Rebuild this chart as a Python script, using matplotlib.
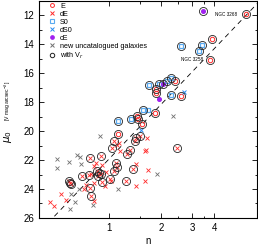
import matplotlib
matplotlib.use('Agg')
import matplotlib.pyplot as plt
from matplotlib.lines import Line2D
import numpy as np

plt.rcParams['font.family'] = ['Liberation Sans', 'DejaVu Sans']

# E galaxies (all with V_r)
e_n = [6.12, 3.89, 3.81, 2.40, 1.87, 1.86, 2.60, 1.83, 1.46, 1.47, 1.56, 1.13]
e_mu = [11.90, 13.64, 15.07, 16.50, 17.09, 17.37, 17.60, 18.74, 18.98, 19.16, 19.48, 20.20]

# S0 galaxies
s0_n = [2.60, 3.39, 3.28, 1.70, 1.93, 2.14, 2.26, 2.28, 1.58, 1.34, 1.13, 1.67]
s0_mu = [14.10, 14.01, 14.43, 16.79, 16.72, 16.50, 16.33, 17.48, 18.52, 19.14, 19.28, 18.52]
s0_vr = [True, True, True, True, True, True, True, True, True, True, True, False]

# dS0
ds0_n = [2.68, 1.52]
ds0_mu = [17.30, 19.90]

# cE
ce_n = [3.46, 2.04, 1.93]
ce_mu = [11.69, 16.72, 17.78]
ce_vr = [True, True, False]

# dE with V_r (circled)
de_vr_n = [1.068, 1.05, 1.41, 1.44, 1.50, 1.32, 1.28, 1.10, 1.115, 1.068, 1.37,
           1.25, 2.46, 1.013, 0.779, 0.908, 0.86, 0.88, 0.90, 0.87, 0.707,
           0.772, 0.92, 0.779, 0.796, 0.59, 0.60, 0.61]
de_vr_mu = [20.70, 21.16, 20.70, 20.47, 20.31, 21.28, 21.55, 22.19, 22.47, 22.77,
            22.61, 23.46, 21.16, 23.34, 21.85, 21.74, 22.78, 22.88, 22.97, 23.07,
            23.07, 23.00, 23.53, 23.92, 24.45, 23.45, 23.55, 23.66]

# dE without V_r
de_n = [1.146, 1.155, 1.66, 1.61, 1.64, 1.43, 1.68, 1.61, 1.44, 1.036, 0.843,
        0.92, 0.83, 0.746, 0.72, 0.537, 0.568, 0.46, 0.485, 0.824, 0.95, 0.97,
        0.79, 0.824, 1.12]
de_mu = [20.81, 21.35, 20.47, 21.39, 21.28, 22.24, 22.66, 23.46, 23.81, 23.46,
         22.19, 22.31, 22.43, 23.69, 24.03, 24.31, 24.79, 24.91, 25.14, 24.80,
         23.81, 22.84, 22.95, 23.57, 20.93]

# new uncatalogued galaxies
new_n = [0.505, 0.505, 0.593, 0.66, 0.683, 0.698, 0.888, 0.612, 0.645, 0.60,
         0.81, 0.677, 1.13, 1.89, 2.33]
new_mu = [21.90, 22.57, 22.16, 21.64, 21.78, 22.28, 20.35, 24.31, 24.87, 25.39,
          25.07, 24.03, 24.03, 22.95, 18.93]

# mu0 - log n relation
rel_a, rel_b = 21.95, -12.7
rel_nmin = 0.49

c_red = '#ff2a2a'
c_s0 = '#5aaaf0'
c_ds0 = '#2a8cf0'
c_ce = '#a020f0'
c_new = '#707070'

fig = plt.figure(figsize=(2.58, 2.46), dpi=100)
ax = fig.add_axes([0.151, 0.114, 0.844, 0.882])

nn = np.logspace(np.log10(rel_nmin), np.log10(8), 50)
ax.plot(nn, rel_a + rel_b * np.log10(nn), ls=(0, (6, 5)), color='k', lw=0.6, zorder=1)

ax.plot(new_n, new_mu, 'x', color=c_new, ms=2.8, mew=0.6, zorder=2)
ax.plot(de_n, de_mu, 'x', color=c_red, ms=2.8, mew=0.6, zorder=2)
ax.plot(de_vr_n, de_vr_mu, 'x', color=c_red, ms=2.8, mew=0.6, zorder=2)
ax.plot(e_n, e_mu, 'o', mfc='none', mec=c_red, ms=3.2, mew=0.7, zorder=3)
ax.plot(s0_n, s0_mu, 's', mfc='none', mec=c_s0, ms=3.0, mew=0.9, zorder=3)
ax.plot(ds0_n, ds0_mu, 'x', color=c_ds0, ms=3.0, mew=0.7, zorder=3)
ax.plot(ce_n, ce_mu, 'o', color=c_ce, ms=2.6, zorder=3)

vr_n = (e_n + [n for n, v in zip(s0_n, s0_vr) if v]
        + [n for n, v in zip(ce_n, ce_vr) if v] + de_vr_n)
vr_mu = (e_mu + [m for m, v in zip(s0_mu, s0_vr) if v]
         + [m for m, v in zip(ce_mu, ce_vr) if v] + de_vr_mu)
ax.plot(vr_n, vr_mu, 'o', mfc='none', mec='#222222', ms=5.8, mew=0.6, zorder=4)

ax.annotate('NGC 3268', (e_n[0], e_mu[0]), xytext=(-7, 0), textcoords='offset points',
            ha='right', va='center', fontsize=3.3)
ax.annotate('NGC 3258', (e_n[2], e_mu[2]), xytext=(-5, 0), textcoords='offset points',
            ha='right', va='center', fontsize=3.3)

ax.set_xscale('log')
ax.set_xlim(0.4, 7)
ax.set_ylim(26, 11)
ax.set_xticks([1, 2, 3, 4])
ax.set_xticklabels(['1', '2', '3', '4'])
ax.set_xticks([1.5, 2.5, 3.5], minor=True)
ax.xaxis.set_minor_formatter(matplotlib.ticker.NullFormatter())
ax.set_yticks(np.arange(12, 27, 2))
ax.set_yticks(np.arange(11, 26, 2), minor=True)
ax.tick_params(which='both', direction='in', top=True, right=True, labelsize=7, width=0.6)
ax.tick_params(which='major', length=3.5)
ax.tick_params(which='minor', length=1.8)
for s in ax.spines.values():
    s.set_linewidth(0.8)

ax.set_xlabel('n', fontsize=7, labelpad=2)
fig.text(0.03, 0.445, r'$\mu_0$', rotation=90, fontsize=7.5, ha='center', va='center')
fig.text(0.03, 0.59, r'[V mag arcsec$^{-2}$]', rotation=90, fontsize=3.6, ha='center', va='center')

handles = [
    Line2D([], [], ls='none', marker='o', mfc='none', mec=c_red, ms=2.8, mew=0.7),
    Line2D([], [], ls='none', marker='x', color=c_red, ms=2.8, mew=0.7),
    Line2D([], [], ls='none', marker='s', mfc='none', mec=c_s0, ms=2.6, mew=0.8),
    Line2D([], [], ls='none', marker='x', color=c_ds0, ms=2.8, mew=0.7),
    Line2D([], [], ls='none', marker='o', color=c_ce, ms=2.4),
    Line2D([], [], ls='none', marker='x', color=c_new, ms=2.8, mew=0.7),
    Line2D([], [], ls='none', marker='o', mfc='none', mec='#222222', ms=3.2, mew=0.7),
]
labels = ['E', 'dE', 'S0', 'dS0', 'cE', 'new uncatalogued galaxies', r'with V$_r$']
ax.legend(handles, labels, loc='upper left', bbox_to_anchor=(0.02, 1.018), frameon=False,
          fontsize=5.2, labelspacing=0.12, handlelength=0.8, handletextpad=0.7,
          borderpad=0.3)

fig.savefig('out.png', dpi=100)
